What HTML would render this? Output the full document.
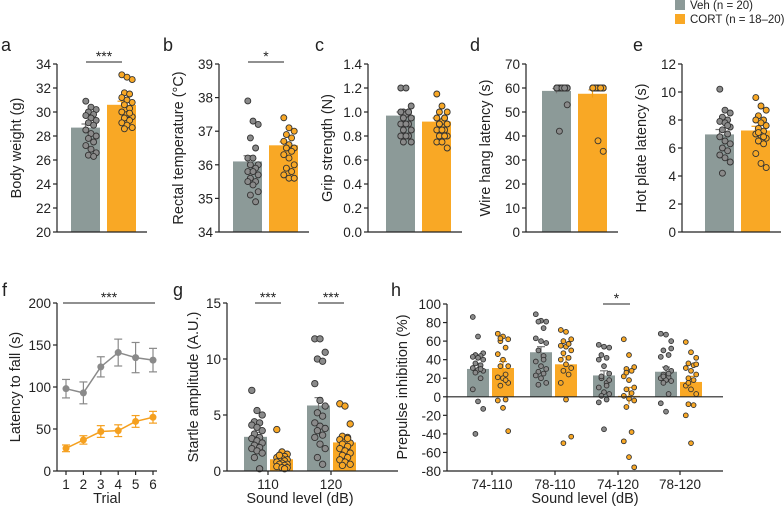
<!DOCTYPE html>
<html><head><meta charset="utf-8"><style>
html,body{margin:0;padding:0;background:#fff;}
svg{display:block;font-family:"Liberation Sans",Arial,sans-serif;}
</style></head><body>
<svg id="fig" width="784" height="506" viewBox="0 0 784 506"></svg>
<script>
// ---- data ----
const groupNames = ["Veh","CORT"];
const aMeans=[28.7,30.6], aErr=[0.3,0.3];
const aVeh=[30.9,30.4,30.2,30.0,29.8,29.7,29.5,29.3,29.1,28.9,28.5,28.2,28.0,27.8,27.5,27.2,26.9,26.6,26.4,26.3];
const aCort=[33.1,32.9,32.7,31.6,31.5,31.2,31.0,30.8,30.6,30.3,30.0,29.8,29.6,29.5,29.3,29.1,28.9,28.7,28.6,29.9];
const bMeans=[36.1,36.58], bErr=[0.17,0.1];
const bVeh=[37.9,37.3,37.2,36.8,36.5,36.2,36.2,36.0,36.0,35.9,35.8,35.8,35.7,35.6,35.5,35.5,35.4,35.2,35.1,34.9];
const bCort=[37.4,37.1,37.0,36.9,36.8,36.7,36.6,36.5,36.5,36.4,36.3,36.2,36.0,35.9,35.8,35.7,35.6,35.6];
const cMeans=[0.97,0.92], cErr=[0.03,0.03];
const cVeh=[1.2,1.2,1.05,1.0,1.0,1.0,0.98,0.95,0.95,0.9,0.9,0.9,0.85,0.85,0.8,0.8,0.8,0.75,0.75,1.0];
const cCort=[1.15,1.05,1.0,1.0,0.95,0.95,0.92,0.9,0.9,0.85,0.85,0.85,0.8,0.8,0.8,0.75,0.75,0.7,0.9,0.95];
const dMeans=[58.8,57.6], dErr=[1.0,1.6];
const dVeh=[60,60,60,60,60,60,60,60,60,60,60,60,60,60,60,60,60,53,42,60];
const dCort=[60,60,60,60,60,60,60,60,60,60,60,60,60,60,60,60,38,33.6];
const eMeans=[6.97,7.25], eErr=[0.35,0.3];
const eVeh=[10.2,8.7,8.5,8.2,8.0,7.9,7.8,7.5,7.3,7.0,6.8,6.5,6.3,6.0,5.8,5.5,5.3,5.0,4.2,7.6];
const eCort=[9.6,9.0,8.7,8.3,8.0,8.0,7.8,7.6,7.4,7.2,7.0,6.9,6.7,6.5,6.3,5.6,4.9,4.6,7.1,6.8];
const fTrials=[1,2,3,4,5,6];
const fVeh=[98,93,124,141,135,132], fVehErr=[11,13,12,16,18,14];
const fCort=[27,37,47,48,59,64], fCortErr=[4,5,7,7,7,7];
const gLevels=["110","120"];
const gVehMeans=[3.05,5.85], gVehErr=[0.4,0.7];
const gCortMeans=[1.05,2.55], gCortErr=[0.2,0.3];
const gVeh110=[7.2,5.4,5.0,4.4,4.3,4.1,3.9,3.6,3.3,3.0,2.9,2.7,2.5,2.3,2.1,2.0,1.8,1.6,1.2,0.2];
const gCort110=[3.7,1.7,1.5,1.4,1.3,1.2,1.1,1.0,0.9,0.9,0.8,0.7,0.6,0.6,0.5,0.4,0.3,0.3,1.4,0.2];
const gVeh120=[11.8,11.8,10.6,10.0,9.8,7.8,6.3,5.8,5.2,4.9,4.3,4.0,3.8,3.6,3.2,3.0,2.4,2.0,1.2,0.6];
const gCort120=[6.0,5.8,4.2,3.1,3.0,2.8,2.6,2.5,2.4,2.2,2.0,1.8,1.6,1.4,1.2,1.0,0.8,0.6,0.5,2.9];
const hLevels=["74-110","78-110","74-120","78-120"];
const hVehMeans=[30,48,23,27], hVehErr=[6,6,5,5];
const hCortMeans=[31,35,1,16], hCortErr=[7,8,9,6];
const hVeh=[[86,65,47,45,44,43,42,40,36,34,31,29,28,26,20,8,-5,-13,-40,30],
 [89,82,81,81,74,63,60,58,50,44,38,33,30,27,25,23,20,15,13,40],
 [56,54,53,45,42,40,33,25,20,15,10,5,3,1,-3,-6,-35,18,22,12],
 [68,67,52,50,45,43,31,28,24,21,20,18,17,15,3,-7,-16,60,22,25]];
const hCort=[[68,65,62,60,53,46,40,33,33,24,21,20,15,12,-3,-4,-12,-37,63,18],
 [72,70,62,60,57,55,54,50,47,42,40,35,31,28,24,15,-3,-43,-50,57],
 [62,45,32,30,28,22,18,10,8,4,1,-2,-4,-11,-38,-48,-65,-76,26],
 [59,48,42,36,34,31,28,24,20,18,12,8,3,-8,-9,-20,-50,35,15]];

// ---- drawing ----
const NS="http://www.w3.org/2000/svg";
const svg=document.getElementById('fig');
const GRAY="#8c9a98", ORANGE="#f9a825", INK="#222";
const TK=13.5, TT=14.5;
function el(tag,attrs,parent,text){const e=document.createElementNS(NS,tag);for(const k in attrs)e.setAttribute(k,attrs[k]);if(text!==undefined)e.textContent=text;(parent||svg).appendChild(e);return e;}
function txt(x,y,s,size,anchor,parent,rot){const a={x:x,y:y,'font-size':size,'text-anchor':anchor||'middle',fill:INK};if(rot)a.transform='rotate(-90 '+x+' '+y+')';return el('text',a,parent,s);}
function scale(d0,d1,r0,r1){return v=>r0+(v-d0)/(d1-d0)*(r1-r0);}
function jit(i){return ((i*7)%5-2)*2.6;}
function yAxis(g,x,y,ticks,fmt,yTop,yBot){
  el('line',{x1:x,y1:yTop,x2:x,y2:yBot,stroke:INK,'stroke-width':1.2},g);
  ticks.forEach(t=>{const yy=y(t);el('line',{x1:x-4,y1:yy,x2:x,y2:yy,stroke:INK,'stroke-width':1.2},g);txt(x-6,yy+5,fmt(t),TK,'end',g);});
}
function bracket(g,x1,x2,y,stars){el('line',{x1:x1,y1:y,x2:x2,y2:y,stroke:INK,'stroke-width':1},g);txt((x1+x2)/2,y-1,stars,14,'middle',g);}
function bar(g,x,w,y,mean,err,color,base,name){
  const r=el('rect',{x:x,y:Math.min(y(mean),y(base)),width:w,height:Math.abs(y(base)-y(mean)),fill:color},g);
  
  const cx=x+w/2, ec=color===GRAY?'#777':'#f39c12';
  el('line',{x1:cx,y1:y(mean-err),x2:cx,y2:y(mean+err),stroke:ec,'stroke-width':1.2},g);
  el('line',{x1:cx-4,y1:y(mean+err),x2:cx+4,y2:y(mean+err),stroke:ec,'stroke-width':1.2},g);
}
function dots(g,cx,vals,y,fill,r,name){vals.forEach((v,i)=>{const c=el('circle',{cx:cx+jit(i),cy:y(v),r:r,fill:fill,stroke:'#333','stroke-width':0.9},g);});}
function panelLetter(x,y,s){const t=txt(x,y,s,18,'start');}

function barPanel(id,letter,lx,ax,barX,yMin,yMax,step,fmt,label,means,errs,veh,cort,stars){
  const g=el('g',{});
  const y=scale(yMin,yMax,232,64);
  const ticks=[];for(let t=yMin;t<=yMax+1e-9;t+=step)ticks.push(+t.toFixed(2));
  bar(g,barX,29,y,means[0],errs[0],GRAY,yMin,'bar-veh');
  bar(g,barX+36,29,y,means[1],errs[1],ORANGE,yMin,'bar-cort');
  dots(g,barX+20,veh,y,'#8a8a8a',3,'dot-veh');
  dots(g,barX+56,cort,y,ORANGE,3,'dot-cort');
  yAxis(g,ax,y,ticks,fmt,64,232);
  el('line',{x1:ax,y1:232,x2:barX+76,y2:232,stroke:INK,'stroke-width':1.2},g);
  const t=txt(ax-36,148,label,TT,'middle',g,true);
  if(stars)bracket(g,barX+15,barX+51,62,stars);
  panelLetter(lx,51,letter);
}
barPanel('a','a',1,57,71,20,34,2,t=>t,'Body weight (g)',aMeans,aErr,aVeh,aCort,'***');
barPanel('b','b',163,219,233,34,39,1,t=>t,'Rectal temperature (°C)',bMeans,bErr,bVeh,bCort,'*');
barPanel('c','c',315,368,386,0,1.4,0.2,t=>t.toFixed(1),'Grip strength (N)',cMeans,cErr,cVeh,cCort,null);
barPanel('d','d',470,526,542,0,70,10,t=>t,'Wire hang latency (s)',dMeans,dErr,dVeh,dCort,null);
barPanel('e','e',633,682,705,0,12,2,t=>t,'Hot plate latency (s)',eMeans,eErr,eVeh,eCort,null);

// legend
(function(){const g=el('g',{});
 el('rect',{x:675,y:0,width:10,height:10,fill:GRAY},g);
 const t1=txt(690,9,'Veh (n = 20)',11.5,'start',g);
 el('rect',{x:675,y:14,width:10,height:10,fill:ORANGE},g);
 const t2=txt(690,23,'CORT (n = 18–20)',11.5,'start',g);
})();

// panel f
(function(){const g=el('g',{});
 const y=scale(0,200,471,303), x=scale(1,6,66,153);
 yAxis(g,57,y,[0,50,100,150,200],t=>t,303,471);
 el('line',{x1:57,y1:471,x2:157,y2:471,stroke:INK,'stroke-width':1.2},g);
 fTrials.forEach(t=>{el('line',{x1:x(t),y1:471,x2:x(t),y2:475,stroke:INK,'stroke-width':1.2},g);txt(x(t),489,String(t),TK,'middle',g);});
 const tt=txt(107,503,'Trial',TT,'middle',g);
 const yt=txt(20,387,'Latency to fall (s)',TT,'middle',g,true);
 [[fVeh,fVehErr,'#8a8a8a','veh'],[fCort,fCortErr,'#f5a01f','cort']].forEach(([v,e,c,n])=>{
  const p=el('polyline',{points:fTrials.map((t,i)=>x(t)+','+y(v[i])).join(' '),fill:'none',stroke:c,'stroke-width':1.5},g);
  
  fTrials.forEach((t,i)=>{el('line',{x1:x(t),y1:y(v[i]-e[i]),x2:x(t),y2:y(v[i]+e[i]),stroke:c,'stroke-width':1.2},g);
   el('line',{x1:x(t)-4,y1:y(v[i]-e[i]),x2:x(t)+4,y2:y(v[i]-e[i]),stroke:c,'stroke-width':1.2},g);
   el('line',{x1:x(t)-4,y1:y(v[i]+e[i]),x2:x(t)+4,y2:y(v[i]+e[i]),stroke:c,'stroke-width':1.2},g);
   const pt=el('circle',{cx:x(t),cy:y(v[i]),r:3.5,fill:c},g);});
 });
 bracket(g,63,155,303,'***');
 panelLetter(2,296,'f');
})();

// panel g
(function(){const g=el('g',{});
 const y=scale(0,15,471,303); const centers=[268,331];
 const vd=[gVeh110,gVeh120], cd=[gCort110,gCort120];
 gLevels.forEach((l,i)=>{const c=centers[i];
  bar(g,c-24,23,y,gVehMeans[i],gVehErr[i],GRAY,0,'bar-veh-'+l);
  bar(g,c+2,23,y,gCortMeans[i],gCortErr[i],ORANGE,0,'bar-cort-'+l);
  dots(g,c-11,vd[i],y,'#8a8a8a',3.2,'dot-veh');
  dots(g,c+14,cd[i],y,ORANGE,3.2,'dot-cort');
  el('line',{x1:c,y1:471,x2:c,y2:475,stroke:INK,'stroke-width':1.2},g);
  txt(c,489,l,TK,'middle',g);
  bracket(g,c-13,c+13,303,'***');
 });
 yAxis(g,227,y,[0,5,10,15],t=>t,303,471);
 el('line',{x1:227,y1:471,x2:398,y2:471,stroke:INK,'stroke-width':1.2},g);
 const xt=txt(300,503,'Sound level (dB)',TT,'middle',g);
 const yt=txt(198,387,'Startle amplitude (A.U.)',TT,'middle',g,true);
 panelLetter(173,296,'g');
})();

// panel h
(function(){const g=el('g',{});
 const y=scale(-80,100,471,304); const centers=[492,555,618,680];
 hLevels.forEach((l,i)=>{const c=centers[i];
  bar(g,c-25,22,y,hVehMeans[i],hVehErr[i],GRAY,0,'bar-veh-'+l);
  bar(g,c,22,y,hCortMeans[i],hCortErr[i],ORANGE,0,'bar-cort-'+l);
  dots(g,c-14,hVeh[i],y,'#8a8a8a',2.4,'dot-veh');
  dots(g,c+11,hCort[i],y,ORANGE,2.4,'dot-cort');
  el('line',{x1:c,y1:471,x2:c,y2:475,stroke:INK,'stroke-width':1.2},g);
  txt(c,489,l,TK,'middle',g);
 });
 const ticks=[];for(let t=-80;t<=100;t+=20)ticks.push(t);
 yAxis(g,447,y,ticks,t=>t,304,471);
 el('line',{x1:447,y1:y(0),x2:723,y2:y(0),stroke:INK,'stroke-width':1.1},g);
 el('line',{x1:447,y1:471,x2:723,y2:471,stroke:INK,'stroke-width':1.2},g);
 bracket(g,603,630,304,'*');
 const xt=txt(585,503,'Sound level (dB)',TT,'middle',g);
 const yt=txt(407,387,'Prepulse inhibition (%)',TT,'middle',g,true);
 panelLetter(391,296,'h');
})();
</script>
</body></html>
